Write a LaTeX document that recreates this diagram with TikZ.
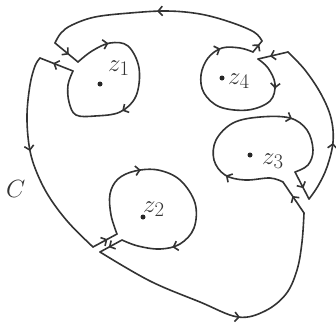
\documentclass[tikz,border=0pt]{standalone}
\usetikzlibrary{arrows.meta,decorations.markings}
\begin{document}
\begin{tikzpicture}[x=1pt,y=-1pt,
  barb/.tip={Straight Barb[length=4.2pt,width=9.5pt]},
  ink/.style={line width=1.6pt, draw=black!80, line cap=round, line join=round},
  arrat/.style={postaction={decorate,decoration={markings,mark=at position #1 with {\arrow{barb}}}}},
  lbl/.style={font=\fontsize{32}{32}\selectfont, inner sep=0pt, text=black!80, anchor=base west},
  pt/.style={circle, fill=black!85, inner sep=0pt, minimum size=5pt}]
\useasboundingbox (0,0) rectangle (336,333);
% junctions
\coordinate (a1) at (55,43);  \coordinate (b1) at (78,62);  \coordinate (c1) at (73,71);  \coordinate (d1) at (40,58);
\coordinate (a2) at (93,247); \coordinate (b2) at (117,234); \coordinate (c2) at (122,240); \coordinate (d2) at (100,252);
\coordinate (a3) at (304,213); \coordinate (b3) at (283,182); \coordinate (c3) at (295,172); \coordinate (d3) at (309,199);
\coordinate (a4) at (288,52); \coordinate (b4) at (258,59); \coordinate (c4) at (253,52); \coordinate (d4) at (262,41);
% outer contour pieces
\draw[ink, arrat=0.5] plot[smooth, tension=0.6] coordinates {(d4) (254,32) (230,22) (200,14) (167,11) (130,13) (95,17) (72,25) (61,33) (a1)};
\draw[ink, arrat=0.45] plot[smooth, tension=0.6] coordinates {(d1) (35,66) (30,85) (27,115) (29,145) (35,168) (48,195) (68,222) (a2)};
\draw[ink, arrat=0.53] plot[smooth, tension=0.6] coordinates {(d2) (150,281) (200,302) (238,317) (265,311) (286,294) (297,270) (302,242) (a3)};
\draw[ink, arrat=0.37] plot[smooth, tension=0.6] coordinates {(d3) (318,186) (327,167) (333,142) (331,118) (321,94) (305,70) (a4)};
% keyhole lines
\draw[ink, arrat=0.6] (a1) -- (b1);
\draw[ink, arrat=0.6] (c1) -- (d1);
\draw[ink, arrat=0.6] (a2) -- (b2);
\draw[ink, arrat=0.6] (c2) -- (d2);
\draw[ink, arrat=0.55] (a3) -- (b3);
\draw[ink, arrat=0.6] (c3) -- (d3);
\draw[ink, arrat=0.6] (a4) -- (b4);
\draw[ink, arrat=0.7] (c4) -- (d4);
% small contours
\draw[ink, arrat=0.16, arrat=0.58] plot[smooth, tension=0.6] coordinates {(b1) (92,51) (110,43) (128,46) (139,68) (136,96) (120,112) (95,116) (76,115) (69,102) (68,85) (c1)};
\draw[ink, arrat=0.32, arrat=0.8] plot[smooth, tension=0.6] coordinates {(b2) (111,215) (110,194) (118,179) (135,171) (158,170) (180,180) (195,203) (194,228) (180,244) (160,249) (138,246) (c2)};
\draw[ink, arrat=0.23, arrat=0.72] plot[smooth, tension=0.6] coordinates {(b3) (270,178) (245,180) (225,175) (214,160) (216,140) (233,123) (260,117) (290,118) (307,130) (313,150) (308,165) (c3)};
\draw[ink, arrat=0.17, arrat=0.84] plot[smooth, tension=0.6] coordinates {(b4) (268,68) (275,84) (270,101) (248,110) (220,107) (204,93) (201,75) (208,58) (222,48) (240,48) (c4)};
% points
\node[pt] (p1) at (100,84) {};
\node[pt] (p2) at (143,217) {};
\node[pt] (p3) at (250,155) {};
\node[pt] (p4) at (222,78) {};
% labels
\node[lbl] (l1) at (108,71) {$z_1$};
\node[lbl] (l2) at (143,212) {$z_2$};
\node[lbl] (l3) at (262,164) {$z_3$};
\node[lbl] (l4) at (228,84) {$z_4$};
\node[lbl] (lc) at (6,197) {$C$};
\end{tikzpicture}
\end{document}
